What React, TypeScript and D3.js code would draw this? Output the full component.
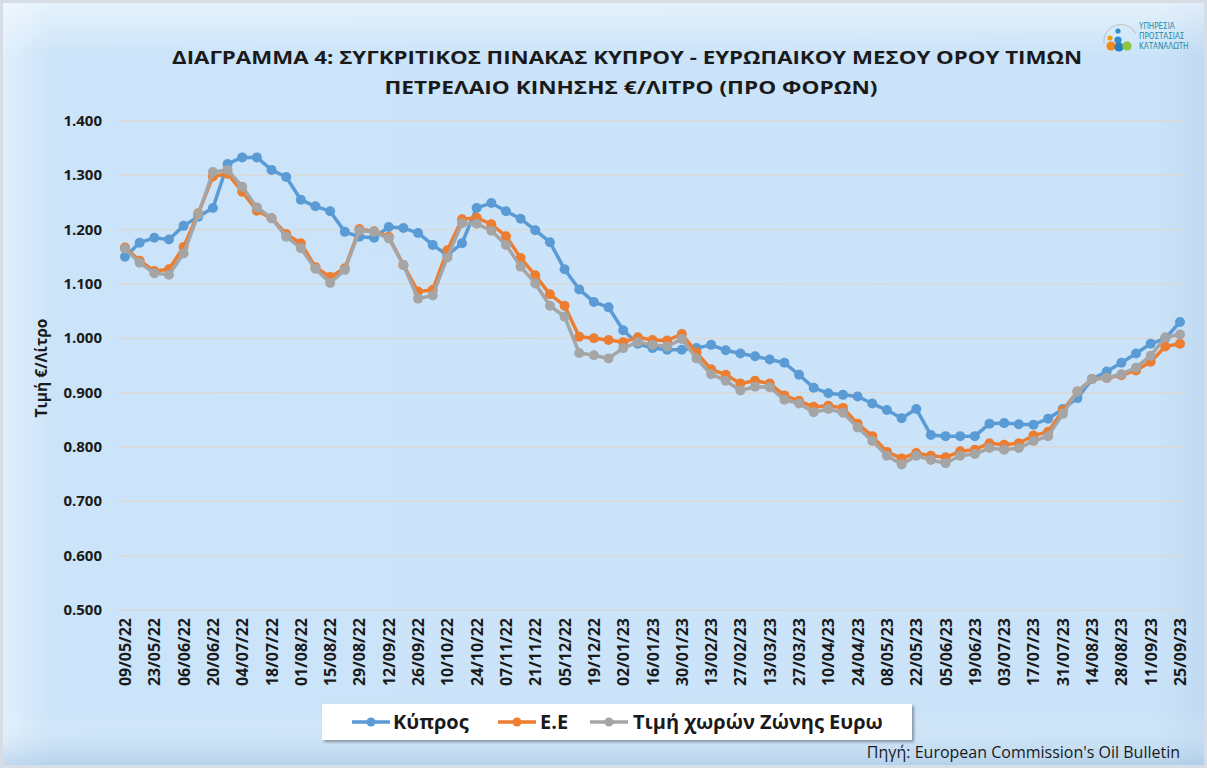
import React from "react";
import * as d3 from "d3";

const tickLabels = [
  "09/05/22","23/05/22","06/06/22","20/06/22","04/07/22","18/07/22","01/08/22","15/08/22","29/08/22","12/09/22",
  "26/09/22","10/10/22","24/10/22","07/11/22","21/11/22","05/12/22","19/12/22","02/01/23","16/01/23","30/01/23",
  "13/02/23","27/02/23","13/03/23","27/03/23","10/04/23","24/04/23","08/05/23","22/05/23","05/06/23","19/06/23",
  "03/07/23","17/07/23","31/07/23","14/08/23","28/08/23","11/09/23","25/09/23"
];

const cyprus = [
  1.150,1.176,1.185,1.182,1.207,1.224,1.240,1.321,1.333,1.333,
  1.310,1.297,1.255,1.243,1.234,1.196,1.187,1.185,1.205,1.203,
  1.194,1.172,1.153,1.175,1.240,1.249,1.234,1.220,1.199,1.177,
  1.127,1.090,1.067,1.057,1.015,0.990,0.982,0.979,0.979,0.982,
  0.988,0.978,0.972,0.967,0.961,0.955,0.933,0.909,0.899,0.896,
  0.893,0.880,0.868,0.853,0.870,0.822,0.820,0.820,0.820,0.843,
  0.844,0.842,0.841,0.852,0.870,0.890,0.925,0.939,0.955,0.972,
  0.990,1.000,1.030
];

const eu = [
  1.167,1.143,1.124,1.127,1.168,1.230,1.298,1.303,1.270,1.235,
  1.221,1.192,1.175,1.131,1.113,1.129,1.201,1.197,1.187,1.135,
  1.086,1.089,1.162,1.219,1.222,1.210,1.188,1.148,1.116,1.081,
  1.060,1.003,1.000,0.997,0.993,1.002,0.997,0.996,1.008,0.974,
  0.943,0.933,0.917,0.922,0.917,0.895,0.885,0.874,0.876,0.872,
  0.843,0.820,0.791,0.779,0.789,0.784,0.781,0.792,0.795,0.807,
  0.804,0.807,0.821,0.828,0.867,0.902,0.925,0.927,0.932,0.941,
  0.957,0.985,0.990
];

const euroZone = [
  1.165,1.139,1.120,1.117,1.156,1.228,1.306,1.310,1.279,1.241,
  1.221,1.187,1.166,1.128,1.102,1.126,1.198,1.196,1.184,1.135,
  1.073,1.079,1.149,1.212,1.211,1.198,1.172,1.132,1.101,1.060,
  1.040,0.973,0.969,0.963,0.982,0.993,0.988,0.985,0.999,0.963,
  0.934,0.922,0.904,0.911,0.910,0.887,0.880,0.864,0.870,0.863,
  0.836,0.811,0.784,0.768,0.784,0.776,0.770,0.784,0.787,0.798,
  0.795,0.798,0.811,0.820,0.861,0.902,0.925,0.927,0.934,0.946,
  0.968,1.002,1.007
];

const yTicks = [0.5, 0.6, 0.7, 0.8, 0.9, 1.0, 1.1, 1.2, 1.3, 1.4];

const seriesNames = ["Κύπρος", "Ε.Ε", "Τιμή χωρών Ζώνης Ευρω"];
const seriesColors = ["#5b9bd5", "#ed7d31", "#a5a5a5"];

const W = 1207;
const H = 768;
const FONT = "'Open Sans', 'Noto Sans', 'DejaVu Sans', sans-serif";

export default function App() {
  const x = d3.scaleLinear().domain([0, cyprus.length - 1]).range([125, 1180]);
  const y = d3.scaleLinear().domain([0.5, 1.4]).range([610, 121]);
  const line = d3
    .line<number>()
    .x((_, i) => x(i))
    .y((d) => y(d));
  const allSeries = [cyprus, eu, euroZone];

  return (
    <svg
      width={W}
      height={H}
      style={{ position: "absolute", left: 0, top: 0, display: "block" }}
      fontFamily={FONT}
    >
      <defs>
        <linearGradient id="bgH" x1="0" x2="1" y1="0" y2="0">
          <stop offset="0" stopColor="#e0effc" />
          <stop offset="0.04" stopColor="#cce4f9" />
          <stop offset="0.96" stopColor="#cae3f8" />
          <stop offset="1" stopColor="#c0daf2" />
        </linearGradient>
        <linearGradient id="bgV" x1="0" x2="0" y1="0" y2="1">
          <stop offset="0" stopColor="#ffffff" stopOpacity="0.5" />
          <stop offset="0.07" stopColor="#ffffff" stopOpacity="0" />
          <stop offset="0.93" stopColor="#ffffff" stopOpacity="0" />
          <stop offset="1" stopColor="#9fc1e0" stopOpacity="0.5" />
        </linearGradient>
        <filter id="shadow" x="-5%" y="-20%" width="110%" height="150%">
          <feDropShadow dx="2" dy="2" stdDeviation="1.5" floodColor="#000" floodOpacity="0.35" />
        </filter>
      </defs>

      <rect x={0} y={0} width={W} height={H} fill="#d6dde4" />
      <rect x={3} y={3} width={W - 6} height={H - 6} fill="url(#bgH)" />
      <rect x={3} y={3} width={W - 6} height={H - 6} fill="url(#bgV)" />

      {/* Title */}
      <text
        x={627}
        y={64}
        textAnchor="middle"
        fontSize={17.5}
        fontWeight="bold"
        fill="#1a1a1a"
        textLength={910}
        lengthAdjust="spacingAndGlyphs"
      >
        ΔΙΑΓΡΑΜΜΑ 4: ΣΥΓΚΡΙΤΙΚΟΣ ΠΙΝΑΚΑΣ ΚΥΠΡΟΥ - ΕΥΡΩΠΑΙΚΟΥ ΜΕΣΟΥ ΟΡΟΥ ΤΙΜΩΝ
      </text>
      <text
        x={631}
        y={94}
        textAnchor="middle"
        fontSize={17.5}
        fontWeight="bold"
        fill="#1a1a1a"
        textLength={493}
        lengthAdjust="spacingAndGlyphs"
      >
        ΠΕΤΡΕΛΑΙΟ ΚΙΝΗΣΗΣ €/ΛΙΤΡΟ (ΠΡΟ ΦΟΡΩΝ)
      </text>

      {/* Logo */}
      <g>
        <path d="M1104,44 A17,17 0 0 1 1136,34" fill="none" stroke="#bfc8d0" strokeWidth={1.2} />
        <circle cx={1118} cy={31} r={2.6} fill="#2e8fd0" />
        <circle cx={1110} cy={38} r={2.6} fill="#f39c12" />
        <circle cx={1118} cy={40} r={3.6} fill="#2e8fd0" />
        <circle cx={1111} cy={46} r={4.6} fill="#f28a1e" />
        <circle cx={1119} cy={47} r={4.6} fill="#2b7fc1" />
        <circle cx={1127} cy={46} r={4.6} fill="#8cc63f" />
        <text x={1139} y={29} fontSize={8} fill="#1e8aa8" fontFamily="'Liberation Sans Narrow', 'DejaVu Sans Condensed', sans-serif">ΥΠΗΡΕΣΙΑ</text>
        <text x={1139} y={39} fontSize={8} fill="#1e8aa8" fontFamily="'Liberation Sans Narrow', 'DejaVu Sans Condensed', sans-serif">ΠΡΟΣΤΑΣΙΑΣ</text>
        <text x={1139} y={49} fontSize={8} fill="#1e8aa8" fontFamily="'Liberation Sans Narrow', 'DejaVu Sans Condensed', sans-serif">ΚΑΤΑΝΑΛΩΤΗ</text>
      </g>

      {/* Gridlines and y ticks */}
      {yTicks.map((t) => (
        <g key={t}>
          <line x1={117} x2={1187} y1={y(t)} y2={y(t)} stroke="#d9d9d9" strokeWidth={1.5} />
          <text x={102} y={y(t) + 5} textAnchor="end" fontSize={15} fontWeight="bold" fill="#1a1a1a">
            {d3.format(".3f")(t)}
          </text>
        </g>
      ))}

      {/* Y axis title */}
      <text
        transform={`translate(47,${368}) rotate(-90)`}
        textAnchor="middle"
        fontSize={15.5}
        fontWeight="bold"
        fill="#1a1a1a"
      >
        Τιμή €/Λίτρο
      </text>

      {/* X tick labels */}
      {tickLabels.map((lab, k) => (
        <text
          key={lab}
          transform={`translate(${x(k * 2) + 6},618) rotate(-90)`}
          textAnchor="end"
          fontSize={16}
          fontWeight="bold"
          fill="#1a1a1a"
        >
          {lab}
        </text>
      ))}

      {/* Series */}
      {allSeries.map((s, si) => (
        <g key={si}>
          <path d={line(s) || ""} fill="none" stroke={seriesColors[si]} strokeWidth={3.5} strokeLinejoin="round" />
          {s.map((v, i) => (
            <circle key={i} cx={x(i)} cy={y(v)} r={5} fill={seriesColors[si]} />
          ))}
        </g>
      ))}

      {/* Legend */}
      <g>
        <rect x={322} y={704} width={590} height={36} fill="#ffffff" filter="url(#shadow)" />
        {[
          { lx: 352, tx: 393 },
          { lx: 498, tx: 540 },
          { lx: 590, tx: 633 },
        ].map((p, i) => (
          <g key={i}>
            <line x1={p.lx} x2={p.lx + 38} y1={722} y2={722} stroke={seriesColors[i]} strokeWidth={3.5} />
            <circle cx={p.lx + 19} cy={722} r={4.5} fill={seriesColors[i]} />
            <text x={p.tx} y={729} fontSize={20} fontWeight="bold" fill="#1a1a1a">
              {seriesNames[i]}
            </text>
          </g>
        ))}
      </g>

      {/* Source */}
      <text x={1180} y={758} textAnchor="end" fontSize={16} fill="#1a1a1a">
        Πηγή: European Commission's Oil Bulletin
      </text>
    </svg>
  );
}
